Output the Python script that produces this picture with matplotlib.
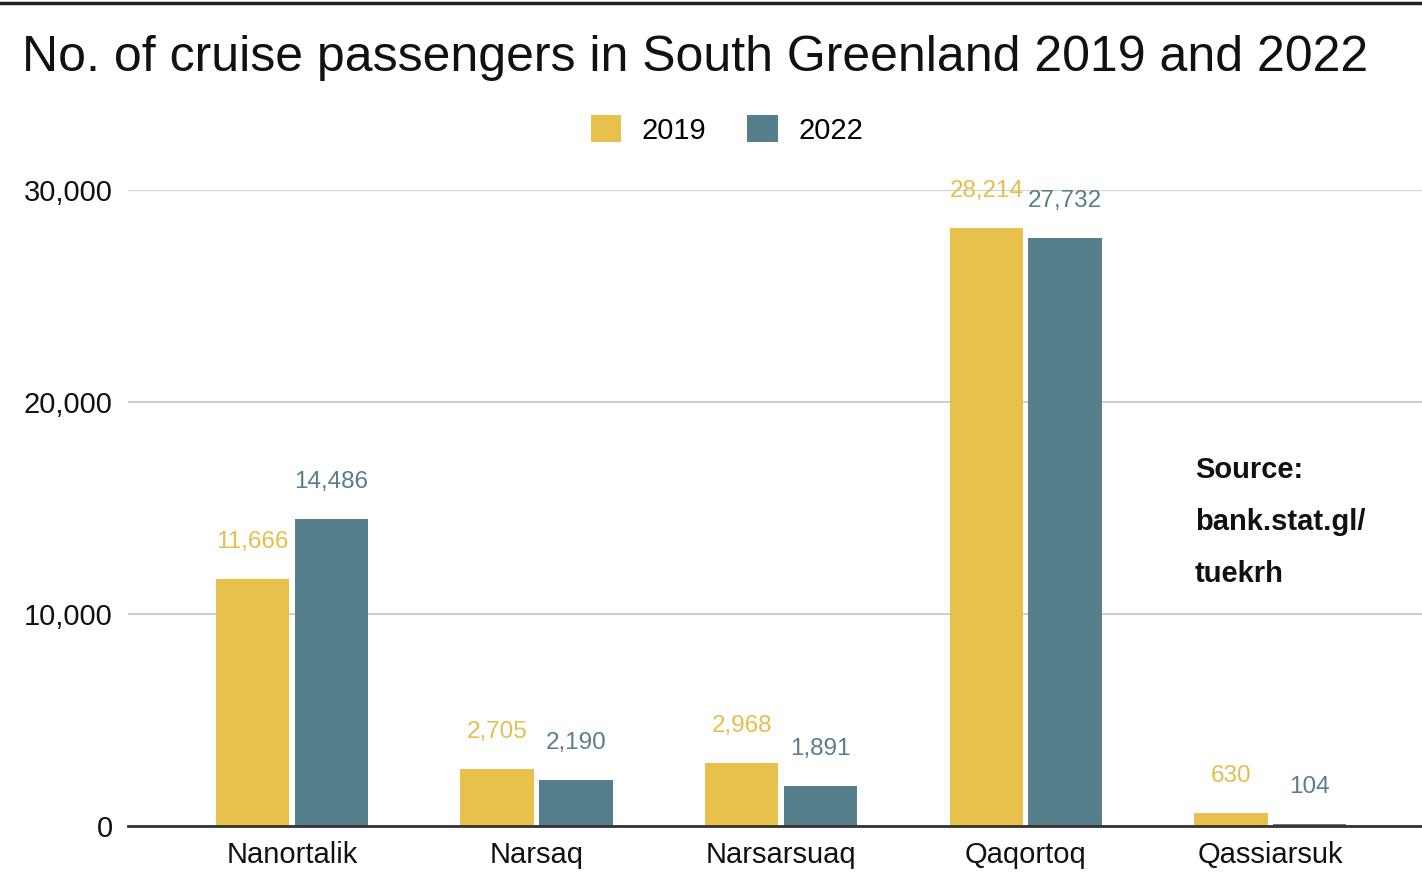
import numpy as np
import matplotlib
matplotlib.use("Agg")
import matplotlib.pyplot as plt
from matplotlib.patches import Patch
from matplotlib.lines import Line2D

plt.rcParams["font.family"] = ["Liberation Sans", "DejaVu Sans"]

towns = ["Nanortalik", "Narsaq", "Narsarsuaq", "Qaqortoq", "Qassiarsuk"]
pax_2019 = [11666, 2705, 2968, 28214, 630]
pax_2022 = [14486, 2190, 1891, 27732, 104]
yticks = [0, 10000, 20000, 30000]

YELLOW = "#E8C14D"
TEAL = "#557F8A"
YELLOW_TXT = "#E3BF4E"
TEAL_TXT = "#5A7E89"

fig = plt.figure(figsize=(14.22, 8.89), dpi=100)
ax = fig.add_axes([128 / 1422, 1 - 826 / 889, 1 - 128 / 1422, (826 - 190) / 889])

x = np.arange(len(towns))
w = 0.30
off = 0.161
ax.bar(x - off, pax_2019, w, color=YELLOW, zorder=3)
ax.bar(x + off, pax_2022, w, color=TEAL, zorder=3)

# value labels above each bar
for xi, v in zip(x, pax_2019):
    ax.annotate(f"{v:,}", (xi - off, v), xytext=(0, 37), textcoords="offset pixels",
                ha="center", va="center", fontsize=17.5, color=YELLOW_TXT, zorder=4)
for xi, v in zip(x, pax_2022):
    ax.annotate(f"{v:,}", (xi + off, v), xytext=(0, 37), textcoords="offset pixels",
                ha="center", va="center", fontsize=17.5, color=TEAL_TXT, zorder=4)

ax.set_xlim(-0.67, 4.62)
ax.set_ylim(0, 30000)
ax.set_yticks(yticks)
ax.set_yticklabels([f"{t:,}" for t in yticks])
ax.set_xticks(x)
ax.set_xticklabels(towns)
ax.tick_params(axis="both", length=0, labelsize=21, colors="#111111")
ax.tick_params(axis="y", pad=11)
ax.tick_params(axis="x", pad=11)
ax.grid(axis="y", color="#cfcfcf", linewidth=1.5, zorder=0)
for side in ["top", "right", "left"]:
    ax.spines[side].set_visible(False)
ax.spines["bottom"].set_color("#333333")
ax.spines["bottom"].set_linewidth(2)
ax.spines["bottom"].set_zorder(5)

fig.text(22 / 1422, 1 - 58 / 889, "No. of cruise passengers in South Greenland 2019 and 2022",
         fontsize=36, ha="left", va="center", color="#111111")

handles = [Patch(facecolor=YELLOW, label="2019"), Patch(facecolor=TEAL, label="2022")]
fig.legend(handles=handles, loc="center", bbox_to_anchor=(727 / 1422, 1 - 130 / 889),
           ncol=2, frameon=False, fontsize=21, handlelength=1.05, handleheight=1.0,
           handletextpad=0.7, columnspacing=1.4)

for i, line in enumerate(["Source:", "bank.stat.gl/", "tuekrh"]):
    fig.text(1195 / 1422, 1 - (470 + 52 * i) / 889, line, fontsize=21, fontweight="bold",
             ha="left", va="center", color="#111111")

# frame line along the top edge
fig.add_artist(Line2D([0, 1], [1 - 3 / 889, 1 - 3 / 889], transform=fig.transFigure,
                      color="#222222", linewidth=2.5))

fig.savefig("out.png", dpi=100)
